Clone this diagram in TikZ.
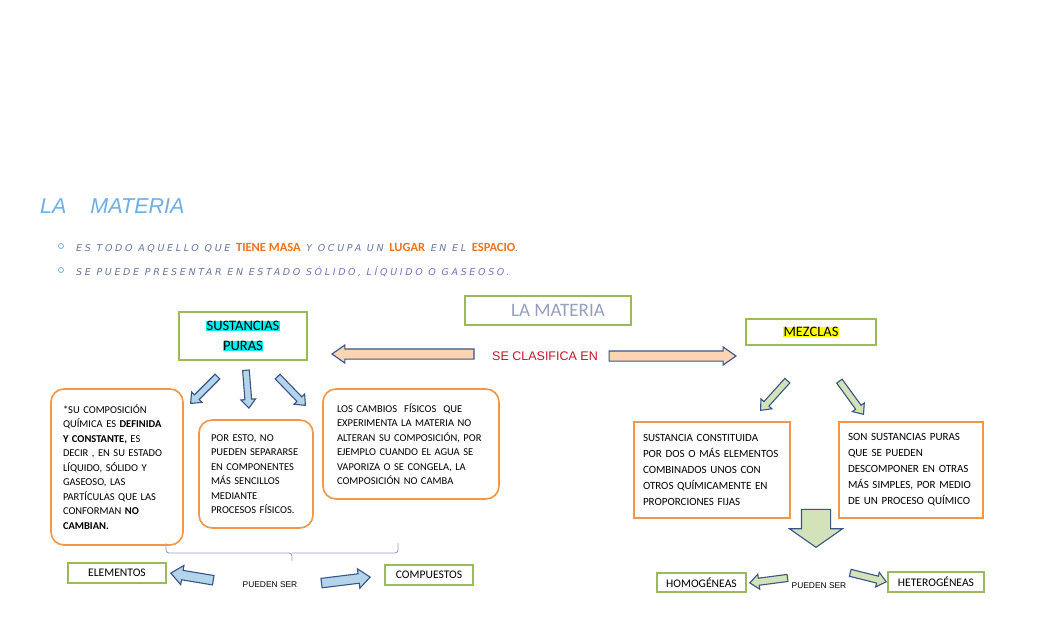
\documentclass[tikz,border=0pt]{standalone}
\usepackage{fontspec}
\setmainfont{Carlito}
\newfontfamily\arialfont{Liberation Sans}
\newfontfamily\handfont[LetterSpace=28]{DejaVu Sans}
\usetikzlibrary{shapes.arrows}
\definecolor{boxgreen}{RGB}{155,187,89}
\definecolor{boxorange}{RGB}{245,150,70}
\definecolor{arrowline}{RGB}{56,85,135}
\definecolor{peach}{RGB}{251,212,180}
\definecolor{skyfill}{RGB}{180,212,235}
\definecolor{sagefill}{RGB}{212,226,186}
\definecolor{titleblue}{RGB}{110,175,230}
\definecolor{greyblue}{RGB}{105,120,160}
\definecolor{wordorange}{RGB}{240,115,30}
\definecolor{solidblue}{RGB}{115,115,200}
\definecolor{clasred}{RGB}{200,20,45}
\definecolor{bracegrey}{RGB}{150,160,190}
\definecolor{hlcyan}{RGB}{0,240,240}
\definecolor{hlyellow}{RGB}{255,255,0}
\setlength{\fboxsep}{0.6pt}

\begin{document}
\begin{tikzpicture}
        [x=1pt,y=-1pt,
         greenbox/.style={draw=boxgreen,line width=1.6pt,inner sep=0,align=center,font=\fontsize{11.6}{14}\selectfont},
         orangebox/.style={draw=boxorange,line width=1.6pt,rounded corners=13pt,inner ysep=0,align=left,font=\fontsize{10.5}{14.5}\selectfont},
         squarebox/.style={draw=boxorange,line width=1.6pt,inner ysep=0,align=left,font=\fontsize{11}{16}\selectfont},
         blockarrow/.style={single arrow,draw=arrowline,line width=1.1pt,inner xsep=0,anchor=tip,single arrow tip angle=80},
         bluearrow/.style={blockarrow,fill=skyfill,inner ysep=2.8pt,single arrow head extend=4pt},
         sagearrow/.style={blockarrow,fill=sagefill,inner ysep=2.8pt,single arrow head extend=4pt},
         dot/.style={draw=titleblue,circle,line width=0.8pt,inner sep=0,minimum size=5pt}]

        \fill[white] (0,0) rectangle (1054,640);
        \useasboundingbox (0,0) rectangle (1054,640);

        \node[anchor=base west,inner sep=0,text=titleblue,font=\arialfont\itshape\fontsize{21.5}{24}\selectfont] (title) at (40,213) {LA\hspace{24pt}MATERIA};

        \node[dot] (b1) at (61,246) {};
        \node[dot] (b2) at (61,270) {};
        \node[anchor=base west,inner sep=0,text=greyblue,font=\handfont\itshape\fontsize{9.5}{10}\selectfont] (line1) at (76,251)
          {ES TODO AQUELLO QUE {\rmfamily\upshape\bfseries\fontsize{12.5}{10}\selectfont\color{wordorange}TIENE MASA} Y OCUPA UN {\rmfamily\upshape\bfseries\fontsize{12.5}{10}\selectfont\color{wordorange}LUGAR} EN EL {\rmfamily\upshape\bfseries\fontsize{12.5}{10}\selectfont\color{wordorange}ESPACIO}.};
        \node[anchor=base west,inner sep=0,text=greyblue,font=\handfont\itshape\fontsize{9.5}{10}\selectfont] (line2) at (76,275)
          {SE PUEDE PRESENTAR EN ESTADO {\color{solidblue}SÓLIDO, LÍQUIDO O GASEOSO.}};

        \node[greenbox,minimum width=166pt,minimum height=29pt,text=greyblue!70,font=\fontsize{19}{22}\selectfont] (materia) at (548,310.5) {\hspace*{20pt}LA MATERIA};
        \node[greenbox,minimum width=128pt,minimum height=48pt,font=\fontsize{14.5}{20}\selectfont] (puras) at (243,336) {\colorbox{hlcyan}{SUSTANCIAS}\\\colorbox{hlcyan}{PURAS}};
        \node[greenbox,minimum width=130pt,minimum height=26pt,font=\fontsize{14.5}{16}\selectfont] (mezclas) at (811,332) {\colorbox{hlyellow}{MEZCLAS}};

        \node[text=clasred,font=\arialfont\fontsize{12.5}{14}\selectfont] (clasifica) at (545,356) {SE CLASIFICA EN};
        \node[blockarrow,fill=peach,rotate=180,minimum height=142pt,inner ysep=4.5pt,single arrow head extend=4pt,single arrow tip angle=70] (toPuras) at (331,354) {};
        \node[blockarrow,fill=peach,minimum height=127pt,inner ysep=4.5pt,single arrow head extend=4pt,single arrow tip angle=70] (toMezclas) at (737,356) {};

        \node[bluearrow,rotate=225,minimum height=38pt] (sp1) at (190,404) {};
        \node[bluearrow,rotate=274.5,minimum height=38pt] (sp2) at (249,409) {};
        \node[bluearrow,rotate=314,minimum height=40pt] (sp3) at (306,406) {};

        \node[sagearrow,rotate=228,minimum height=40pt] (mz1) at (760,411) {};
        \node[sagearrow,rotate=306,minimum height=41pt] (mz2) at (864,415) {};

        \node[orangebox,text width=110pt,inner xsep=11pt,minimum height=156pt] (definida) at (117,467)
          {\hspace*{1pt}*SU COMPOSICIÓN\\\hspace*{1pt}QUÍMICA ES \textbf{DEFINIDA}\\\hspace*{1pt}\textbf{Y CONSTANTE,} ES\\\hspace*{1pt}DECIR , EN SU ESTADO\\\hspace*{1pt}LÍQUIDO, SÓLIDO Y\\\hspace*{1pt}GASEOSO, LAS\\\hspace*{1pt}PARTÍCULAS QUE LAS\\\hspace*{1pt}CONFORMAN \textbf{NO}\\\hspace*{1pt}\textbf{CAMBIAN.}};
        \node[orangebox,text width=92pt,inner xsep=11pt,minimum height=108pt] (separar) at (256,474)
          {\hspace*{1pt}POR ESTO, NO\\\hspace*{1pt}PUEDEN SEPARARSE\\\hspace*{1pt}EN COMPONENTES\\\hspace*{1pt}MÁS SENCILLOS\\\hspace*{1pt}MEDIANTE\\\hspace*{1pt}PROCESOS FÍSICOS.};
        \node[orangebox,text width=150pt,inner xsep=13pt,minimum height=110pt] (cambios) at (411,444)
          {\hspace*{1pt}LOS CAMBIOS~ FÍSICOS~ QUE\\\hspace*{1pt}EXPERIMENTA LA MATERIA NO\\\hspace*{1pt}ALTERAN SU COMPOSICIÓN, POR\\\hspace*{1pt}EJEMPLO CUANDO EL AGUA SE\\\hspace*{1pt}VAPORIZA O SE CONGELA, LA\\\hspace*{1pt}COMPOSICIÓN NO CAMBA};
        \node[squarebox,text width=146pt,inner xsep=5pt,minimum height=96pt] (constituida) at (712,470)
          {\hspace*{4pt}SUSTANCIA CONSTITUIDA\\\hspace*{4pt}POR DOS O MÁS ELEMENTOS\\\hspace*{4pt}COMBINADOS UNOS CON\\\hspace*{4pt}OTROS QUÍMICAMENTE EN\\\hspace*{4pt}PROPORCIONES FIJAS};
        \node[squarebox,text width=134pt,inner xsep=5pt,minimum height=96pt] (simples) at (911,470)
          {\hspace*{4pt}SON SUSTANCIAS PURAS\\\hspace*{4pt}QUE SE PUEDEN\\\hspace*{4pt}DESCOMPONER EN OTRAS\\\hspace*{4pt}MÁS SIMPLES, POR MEDIO\\\hspace*{4pt}DE UN PROCESO QUÍMICO};

        \draw[bracegrey,line width=0.9pt,rounded corners=3pt] (166,543) |- (292,553) -- (292,561);
        \draw[bracegrey,line width=0.9pt,rounded corners=3pt] (398,543) |- (292,553);

        \node[greenbox,minimum width=98pt,minimum height=20pt] (elementos) at (117,573) {ELEMENTOS};
        \node[greenbox,minimum width=88pt,minimum height=20pt] (compuestos) at (429,575) {COMPUESTOS};
        \node[font=\arialfont\fontsize{8.4}{9}\selectfont] (puedenA) at (270,585) {PUEDEN SER};
        \node[bluearrow,rotate=170.5,minimum height=43pt,inner ysep=4.2pt,single arrow head extend=5pt] (toElem) at (170,573) {};
        \node[bluearrow,rotate=7,minimum height=49pt,inner ysep=4.2pt,single arrow head extend=5pt] (toComp) at (371,577) {};

        \node[blockarrow,fill=sagefill,rotate=270,minimum height=38pt,inner ysep=14pt,single arrow head extend=12pt,single arrow tip angle=110] (down) at (816,548) {};

        \node[greenbox,minimum width=89pt,minimum height=19pt] (homo) at (701.5,582.5) {HOMOGÉNEAS};
        \node[greenbox,minimum width=96pt,minimum height=20pt] (hetero) at (936,582) {HETEROGÉNEAS};
        \node[font=\arialfont\fontsize{8.4}{9}\selectfont] (puedenB) at (819,586) {PUEDEN SER};
        \node[sagearrow,rotate=187.5,minimum height=38pt,inner ysep=3pt] (toHomo) at (749,583) {};
        \node[sagearrow,rotate=346,minimum height=37pt,inner ysep=3pt] (toHetero) at (887,582) {};

      \end{tikzpicture}
\end{document}
